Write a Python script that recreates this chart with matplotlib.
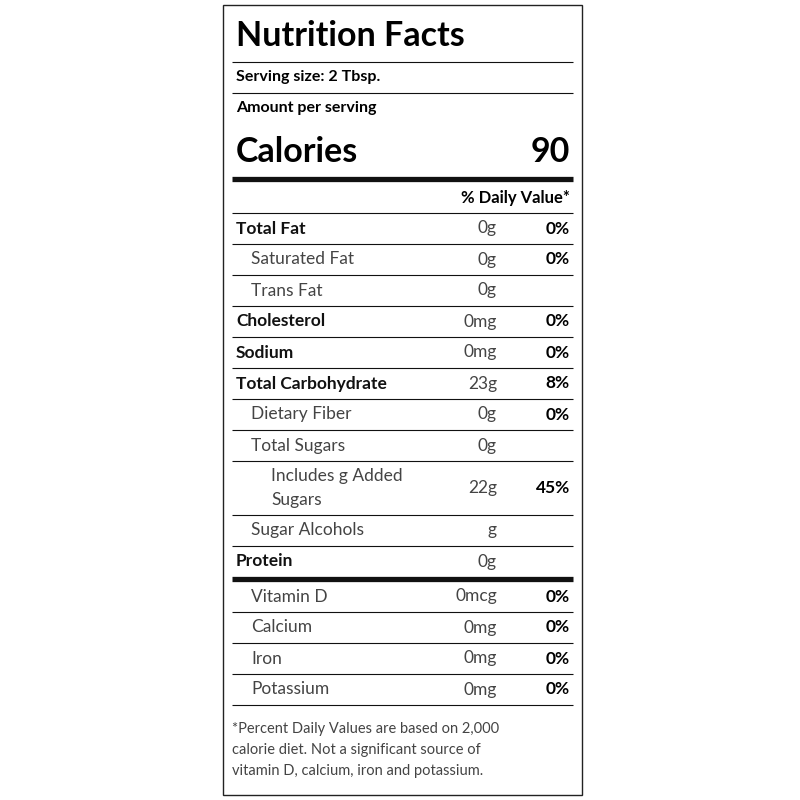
import matplotlib
matplotlib.use("Agg")
import matplotlib.pyplot as plt

plt.rcParams['font.family'] = ['Lato', 'DejaVu Sans']

title = "Nutrition Facts"
serving = "Serving size: 2 Tbsp."
amount_hdr = "Amount per serving"
calories = "90"
dv_hdr = "% Daily Value*"

nutrients = ["Total Fat", "Saturated Fat", "Trans Fat", "Cholesterol", "Sodium",
             "Total Carbohydrate", "Dietary Fiber", "Total Sugars",
             "Includes g Added\nSugars", "Sugar Alcohols", "Protein"]
amounts = ["0g", "0g", "0g", "0mg", "0mg", "23g", "0g", "0g", "22g", "g", "0g"]
percents = ["0%", "0%", "", "0%", "0%", "8%", "0%", "", "45%", "", ""]
indent = [0, 1, 1, 0, 0, 0, 1, 1, 2, 1, 0]
row_h = [31, 31, 31, 31, 31, 31, 31, 31, 54, 31, 31]

vitamins = ["Vitamin D", "Calcium", "Iron", "Potassium"]
vit_amounts = ["0mcg", "0mg", "0mg", "0mg"]
vit_percents = ["0%", "0%", "0%", "0%"]

footnote = ("*Percent Daily Values are based on 2,000\n"
            "calorie diet. Not a significant source of\n"
            "vitamin D, calcium, iron and potassium.")

fig = plt.figure(figsize=(8, 8), dpi=100)
ax = fig.add_axes([0, 0, 1, 1])
ax.set_xlim(0, 800); ax.set_ylim(800, 0); ax.axis('off')

L, R = 232, 573
ax.add_patch(plt.Rectangle((223, 5), 359, 790, fill=False, lw=1.0, ec='#222'))

def hline(y, lw=0.8):
    ax.plot([L, R], [y, y], color='#111', lw=lw, solid_capstyle='butt')

REG = dict(fontweight='normal', color='#444')
ax.text(236, 36, title, fontsize=24.5, fontweight='bold', va='center', ha='left')
hline(62)
ax.text(236, 77, serving, fontsize=11.5, fontweight='bold', va='center')
hline(93)
ax.text(236, 108, amount_hdr, fontsize=11.5, fontweight='bold', va='center')
ax.text(236, 152, "Calories", fontsize=24.5, fontweight='bold', va='center')
ax.text(570, 152, calories, fontsize=24.5, fontweight='bold', va='center', ha='right')
hline(179, lw=3.8)
ax.text(570, 198, dv_hdr, fontsize=12, fontweight='bold', va='center', ha='right')
hline(213)

AX, PX = 497, 570
FS = 12.5
y = 213
for i, n in enumerate(nutrients):
    h = row_h[i]
    yc = y + h / 2
    x = 236 + [0, 15, 35][indent[i]]
    if indent[i] == 0:
        ax.text(x, yc, n, fontsize=FS, fontweight='bold', va='center', ha='left', color='#111')
    else:
        ax.text(x, yc, n, fontsize=FS, va='center', ha='left', linespacing=1.6, **REG)
    ax.text(AX, yc, amounts[i], fontsize=FS, va='center', ha='right', **REG)
    if percents[i]:
        ax.text(PX, yc, percents[i], fontsize=FS, fontweight='bold', va='center', ha='right')
    y += h
    if i < len(nutrients) - 1:
        hline(y)
hline(y + 2, lw=3.8)
y += 4
for i, n in enumerate(vitamins):
    yc = y + 15.5
    ax.text(251, yc, n, fontsize=FS, va='center', **REG)
    ax.text(AX, yc, vit_amounts[i], fontsize=FS, va='center', ha='right', **REG)
    ax.text(PX, yc, vit_percents[i], fontsize=FS, fontweight='bold', va='center', ha='right')
    y += 31
    hline(y)
ax.text(232, 750, footnote, fontsize=10.5, va='center', ha='left', linespacing=1.65, **REG)

fig.savefig("out.png", dpi=100, facecolor='white')
